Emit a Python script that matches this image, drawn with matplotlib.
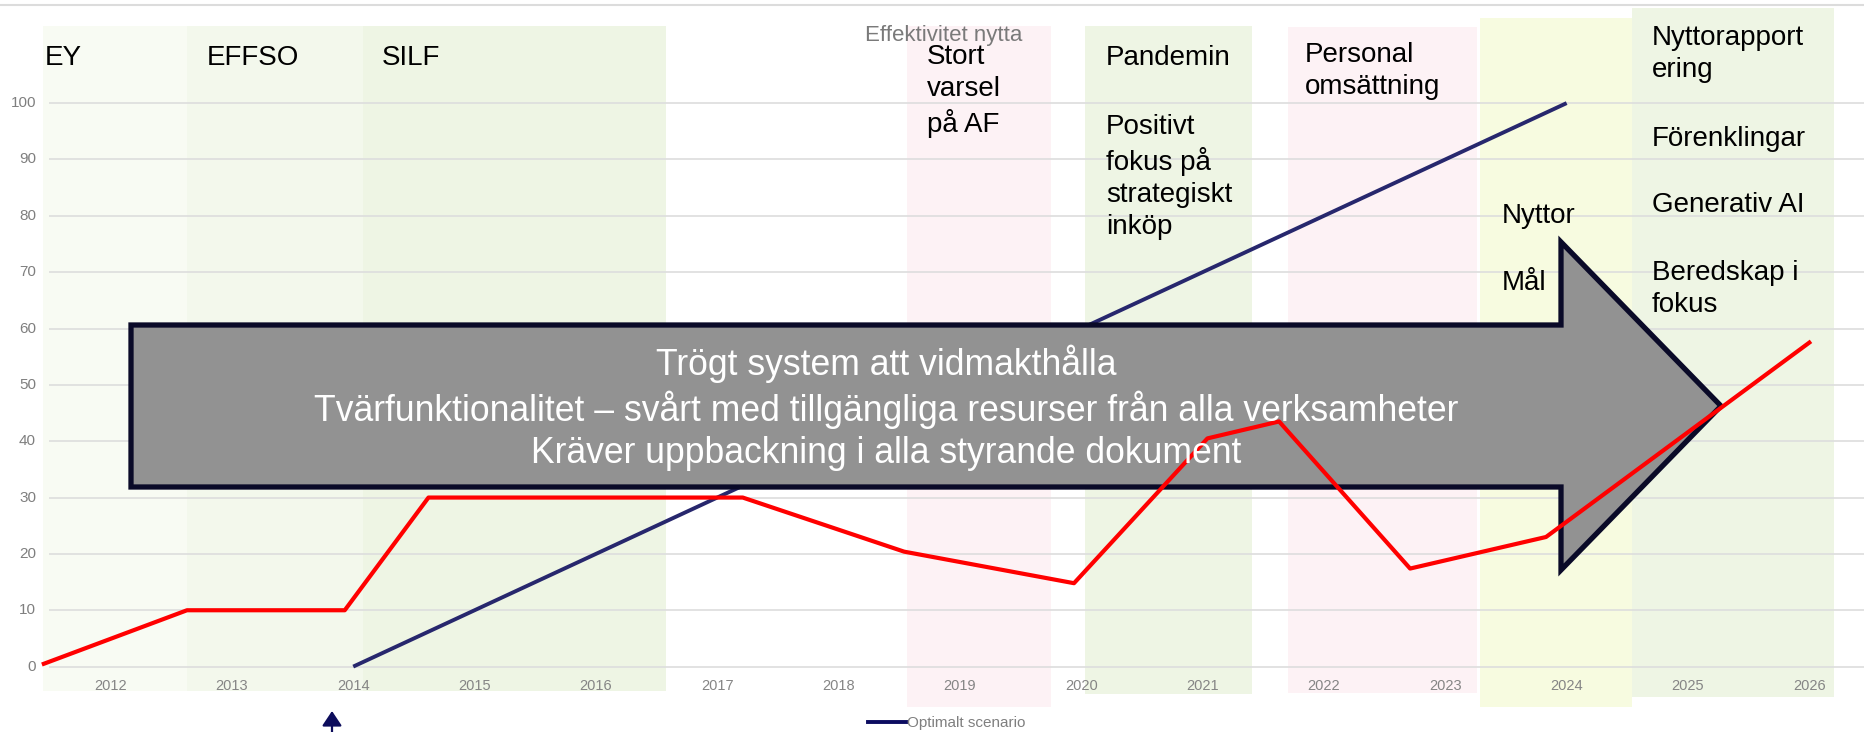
import matplotlib
matplotlib.use("Agg")
import matplotlib.pyplot as plt
from matplotlib.patches import Polygon
from matplotlib.lines import Line2D

plt.rcParams['font.family'] = ['Liberation Sans', 'DejaVu Sans']

# --- data ---
years = list(range(2012, 2027))
y_ticks = list(range(0, 101, 10))

# optimalt scenario (straight line 2014 -> 2024)
opt_x = [2014, 2015, 2016, 2017, 2018, 2019, 2020, 2021, 2022, 2023, 2024]
opt_y = [0, 10, 20, 30, 40, 50, 60, 70, 80, 90, 100]

# utfall (red line)
utfall_x = [2011.45, 2012.63, 2013.93, 2014.62, 2017.21, 2018.54, 2019.94,
            2021.04, 2021.63, 2022.71, 2023.83, 2026.0]
utfall_y = [0.5, 10, 10, 30, 30, 20.4, 14.8, 40.5, 43.5, 17.4, 23.0, 57.5]

# periods shown as coloured columns
period_start = [2011.44, 2012.63, 2014.08, 2018.56, 2020.03, 2021.70, 2023.29, 2024.54]
period_end = [2012.63, 2014.08, 2016.58, 2019.75, 2021.41, 2023.26, 2024.54, 2026.20]
period_kind = ['ey', 'effso', 'silf', 'neg', 'pos', 'neg', 'goal', 'pos']

arrow_lines = ["Trögt system att vidmakthålla",
               "Tvärfunktionalitet – svårt med tillgängliga resurser från alla verksamheter",
               "Kräver uppbackning i alla styrande dokument"]

# --- layout helpers (figure pixels -> data) ---
W, H = 1864, 732
X0, DX = 110.56, 121.34      # pixel of 2012, pixels per year
Y0, DY = 666.6, 5.635        # pixel of 0, pixels per unit


def px_x(p):
    return 2012 + (p - X0) / DX


def px_y(p):
    return (Y0 - p) / DY


fig = plt.figure(figsize=(W / 100, H / 100), dpi=100)
ax = fig.add_axes([0, 0, 1, 1])
ax.set_xlim(px_x(0), px_x(W))
ax.set_ylim(px_y(H), px_y(0))
ax.axis('off')

colors = {'ey': '#f8fbf3', 'effso': '#f3f8ec', 'silf': '#eef5e4',
          'neg': '#fdf2f5', 'pos': '#eef5e4', 'goal': '#f7fbe0'}
tops = [26, 26, 26, 26, 26, 27, 18, 8]
bottoms = [691, 691, 691, 707, 694, 693, 707, 697]
for x0, x1, k, t, b in zip(period_start, period_end, period_kind, tops, bottoms):
    ax.bar(x0, px_y(t) - px_y(b), bottom=px_y(b), width=x1 - x0, align='edge',
           color=colors[k], linewidth=0, zorder=1)

# grid + top border line
ax.hlines(y_ticks, px_x(49), px_x(W), color='#dddddd', lw=1.2, zorder=2)
ax.axhline(px_y(5), color='#dcdcdc', lw=1.5, zorder=2)

# tick labels
for v in y_ticks:
    ax.text(px_x(36), v, str(v), ha='right', va='center', fontsize=11,
            color='#7f7f7f', zorder=6)
for yr in years:
    ax.text(yr, px_y(686), str(yr), ha='center', va='center', fontsize=10.5,
            color='#858585', zorder=6)

ax.text(px_x(944), px_y(36), 'Effektivitet nytta', ha='center', va='center',
        fontsize=16, color='#7a7a7a', zorder=6)

# series
opt_line, = ax.plot(opt_x, opt_y, color='#27276d', lw=2.8, zorder=3,
                    solid_capstyle='butt', label='Optimalt scenario')

# big arrow
arrow = Polygon([(px_x(131), px_y(325)), (px_x(1561), px_y(325)),
                 (px_x(1561), px_y(242)), (px_x(1721), px_y(406)),
                 (px_x(1561), px_y(570)), (px_x(1561), px_y(487)),
                 (px_x(131), px_y(487))],
                closed=True, facecolor='#929292', edgecolor='#0a0a28',
                lw=3.8, joinstyle='miter', zorder=4)
ax.add_patch(arrow)
ax.text(px_x(886), px_y(408), "\n".join(arrow_lines), ha='center', va='center',
        multialignment='center', fontsize=25.6, color='white', linespacing=1.26,
        zorder=6)

ax.plot(utfall_x, utfall_y, color='#ff0000', lw=3, zorder=5)

# period labels
labels = [(45, 45, "EY"), (207, 45, "EFFSO"), (382, 45, "SILF"),
          (927, 44, "Stort\nvarsel\npå AF"), (1106, 45, "Pandemin"),
          (1106, 114, "Positivt\nfokus på\nstrategiskt\ninköp"),
          (1305, 42, "Personal\nomsättning"), (1502, 203, "Nyttor"),
          (1502, 270, "Mål"), (1652, 25, "Nyttorapport\nering"),
          (1652, 126, "Förenklingar"), (1652, 192, "Generativ AI"),
          (1652, 260, "Beredskap i\nfokus")]
for px, py, s in labels:
    ax.text(px_x(px), px_y(py), s, ha='left', va='top', fontsize=20,
            color='black', linespacing=1.3, zorder=7)

# legend
ax.legend(handles=[Line2D([0], [0], color='#0b0b60', lw=2.8)],
          labels=['Optimalt scenario'], loc='center left',
          bbox_to_anchor=(868 / W, (H - 723) / H), frameon=False,
          borderpad=0, borderaxespad=0, handlelength=2.5, handletextpad=0.05,
          fontsize=11, labelcolor='#7f7f7f')

# small marker arrow under 2014
ax.annotate('', xy=(px_x(332), px_y(711)), xytext=(px_x(332), px_y(734)),
            arrowprops=dict(arrowstyle='-|>,head_width=0.3,head_length=0.45',
                            mutation_scale=20, color='#0d0d5c', lw=1.6,
                            shrinkA=0, shrinkB=0), zorder=6)

fig.savefig('out.png', dpi=100)
